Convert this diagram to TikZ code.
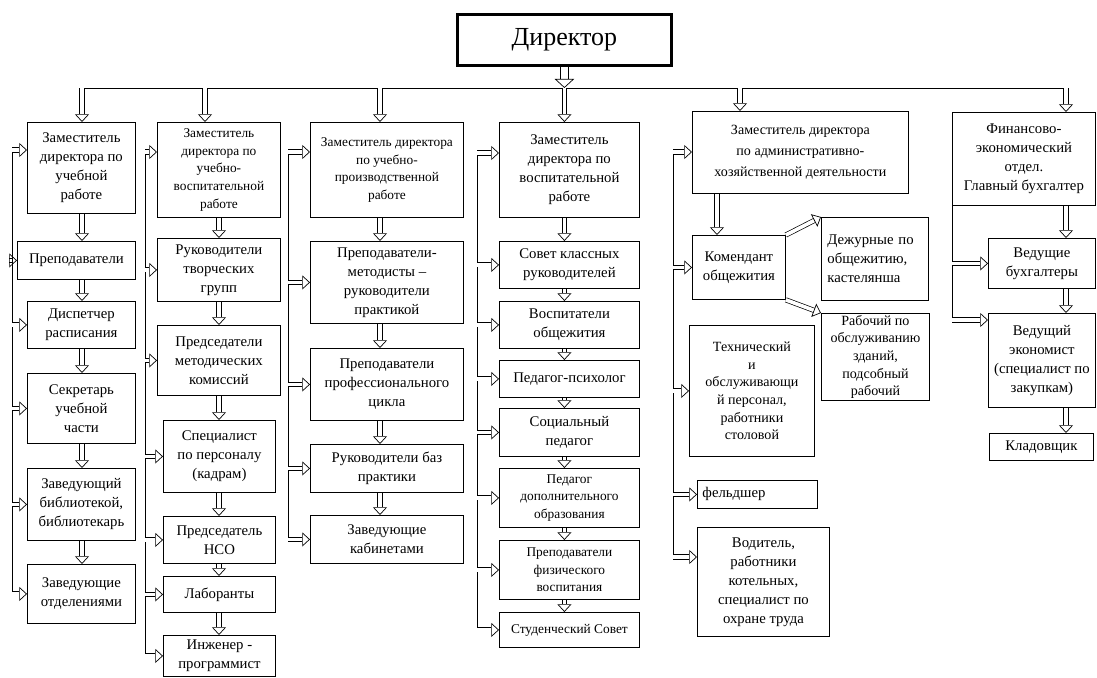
\documentclass[tikz,border=0pt]{standalone}
\usepackage{fontspec}
\setmainfont{Liberation Serif}
\usepackage{tikz}
\usetikzlibrary{arrows.meta}
\newlength{\pxu}
\setlength{\pxu}{0.025cm}
\tikzstyle{orgbox} = [draw=black, line width=0.6pt, rectangle, anchor=north west, inner sep=1pt, align=center, font=\fontsize{10.5}{13.5}\selectfont]
\tikzstyle{smallbox} = [orgbox, font=\fontsize{9.5}{12.5}\selectfont]
\tikzstyle{dirbox} = [draw=black, line width=2pt, rectangle, anchor=north west, font=\fontsize{18.5}{22}\selectfont]
\tikzstyle{varr} = [draw=black, double, double distance=2.6pt, line width=0.5pt, -{Triangle[open, length=5.5pt, width=10pt]}]
\tikzstyle{darr} = [draw=black, double, double distance=5pt, line width=0.5pt, -{Triangle[open, length=6.5pt, width=14pt]}]

\begin{document}
\begin{tikzpicture}[x=0.025cm, y=-0.025cm]
	\useasboundingbox (0,0) rectangle (1097,677);
	% director and bus
	\node [dirbox, minimum width=214\pxu, minimum height=51\pxu] (dir) at (456,13) {Директор};
	\coordinate (a1) at (82,88);
	\coordinate (a2) at (205,88);
	\coordinate (a3) at (380,88);
	\coordinate (a4) at (a1 -| dir.south);
	\coordinate (a5) at (740,88);
	\coordinate (a6) at (1066,88);
	\draw [line width=0.6pt] (a1) -- (a6);
	\draw [darr] (dir.south) -- (a4);

	% column 1
	\node [orgbox, minimum width=108\pxu, minimum height=91\pxu] (zur) at (27,122) {Заместитель\\директора по\\учебной\\работе};
	\node [orgbox, minimum width=118\pxu, minimum height=38\pxu] (prep) at (17,241) {Преподаватели};
	\node [orgbox, minimum width=108\pxu, minimum height=47\pxu] (disp) at (27,301) {Диспетчер\\расписания};
	\node [orgbox, minimum width=108\pxu, minimum height=70\pxu] (sekr) at (27,373) {Секретарь\\учебной\\части};
	\node [orgbox, minimum width=108\pxu, minimum height=72\pxu] (bibl) at (27,468) {Заведующий\\библиотекой,\\библиотекарь};
	\node [orgbox, minimum width=108\pxu, minimum height=59\pxu] (otd) at (27,564) {Заведующие\\отделениями};
	\coordinate (l1) at (12,150);

	% column 2
	\node [smallbox, minimum width=123\pxu, minimum height=95\pxu] (zuv) at (157,122) {Заместитель\\директора по\\учебно-\\воспитательной\\работе};
	\node [orgbox, minimum width=123\pxu, minimum height=63\pxu] (tvor) at (157,238) {Руководители\\творческих\\групп};
	\node [orgbox, minimum width=123\pxu, minimum height=70\pxu] (metod) at (157,325) {Председатели\\методических\\комиссий};
	\node [orgbox, minimum width=112\pxu, minimum height=72\pxu] (kadr) at (163,420) {Специалист\\по персоналу\\(кадрам)};
	\node [orgbox, minimum width=112\pxu, minimum height=47\pxu] (nso) at (163,516) {Председатель\\НСО};
	\node [orgbox, minimum width=112\pxu, minimum height=36\pxu] (lab) at (163,576) {Лаборанты};
	\node [orgbox, minimum width=112\pxu, minimum height=41\pxu] (ing) at (163,635) {Инженер -\\программист};
	\coordinate (l2) at (145,152);
	\coordinate (c2) at (219,0);

	% column 3
	\node [smallbox, minimum width=153\pxu, minimum height=95\pxu] (zup) at (310,122) {Заместитель директора\\по учебно-\\производственной\\работе};
	\node [orgbox, minimum width=153\pxu, minimum height=82\pxu] (metp) at (310,241) {Преподаватели-\\методисты --\\руководители\\практикой};
	\node [orgbox, minimum width=153\pxu, minimum height=72\pxu] (prof) at (310,348) {Преподаватели\\профессионального\\цикла};
	\node [orgbox, minimum width=153\pxu, minimum height=48\pxu] (baz) at (310,444) {Руководители баз\\практики};
	\node [orgbox, minimum width=153\pxu, minimum height=48\pxu] (kab) at (310,515) {Заведующие\\кабинетами};
	\coordinate (l3) at (288,152);

	% column 4
	\node [orgbox, minimum width=140\pxu, minimum height=95\pxu] (zvr) at (499,122) {Заместитель\\директора по\\воспитательной\\работе};
	\node [orgbox, minimum width=140\pxu, minimum height=47\pxu] (skr) at (499,241) {Совет классных\\руководителей};
	\node [orgbox, minimum width=140\pxu, minimum height=47\pxu] (vob) at (499,301) {Воспитатели\\общежития};
	\node [orgbox, minimum width=140\pxu, minimum height=37\pxu] (psy) at (499,360) {Педагог-психолог};
	\node [orgbox, minimum width=140\pxu, minimum height=48\pxu] (soc) at (499,408) {Социальный\\педагог};
	\node [smallbox, minimum width=140\pxu, minimum height=59\pxu] (dop) at (499,468) {Педагог\\дополнительного\\образования};
	\node [smallbox, minimum width=140\pxu, minimum height=59\pxu] (fiz) at (499,540) {Преподаватели\\физического\\воспитания};
	\node [smallbox, minimum width=140\pxu, minimum height=35\pxu] (sts) at (499,612) {Студенческий Совет};
	\coordinate (l4) at (477,153);

	% column 5
	\node [orgbox, font=\fontsize{10}{15}\selectfont, minimum width=216\pxu, minimum height=82\pxu] (aho) at (692,111) {Заместитель директора\\по административно-\\хозяйственной деятельности};
	\node [orgbox, minimum width=93\pxu, minimum height=64\pxu] (kom) at (692,235) {Комендант\\общежития};
	\node [orgbox, align=left, text width=95\pxu, inner xsep=6\pxu, minimum height=83\pxu] (deg) at (821,217) {Дежурные по\\общежитию,\\кастелянша};
	\node [orgbox, font=\fontsize{10}{12.5}\selectfont, minimum width=108\pxu, minimum height=87\pxu] (rab) at (821,313) {Рабочий по\\обслуживанию\\зданий,\\подсобный\\рабочий};
	\node [orgbox, font=\fontsize{10}{12.5}\selectfont, minimum width=125\pxu, minimum height=131\pxu] (tech) at (689,325) {Технический\\и\\обслуживающи\\й персонал,\\работники\\столовой};
	\node [orgbox, align=left, text width=110\pxu, inner xsep=5\pxu, minimum height=28\pxu] (feld) at (697,480) {фельдшер};
	\node [orgbox, minimum width=132\pxu, minimum height=109\pxu] (vod) at (697,527) {Водитель,\\работники\\котельных,\\специалист по\\охране труда};
	\coordinate (l5) at (673,152);
	\coordinate (l5b) at (673,557);
	\coordinate (k1) at (717,0);

	% column 6
	\node [orgbox, minimum width=143\pxu, minimum height=93\pxu] (fin) at (952,112) {Финансово-\\экономический\\отдел.\\Главный бухгалтер};
	\node [orgbox, minimum width=107\pxu, minimum height=50\pxu] (vb) at (988,238) {Ведущие\\бухгалтеры};
	\node [orgbox, minimum width=107\pxu, minimum height=94\pxu] (ve) at (988,313) {Ведущий\\экономист\\(специалист по\\закупкам)};
	\node [orgbox, minimum width=104\pxu, minimum height=27\pxu] (kl) at (989,433) {Кладовщик};
	\coordinate (l6) at (952,320);

	% drops from the bus
	\draw [varr] (a1) -- (a1 |- zur.north);
	\draw [varr] (a2) -- (a2 |- zuv.north);
	\draw [varr] (a3) -- (a3 |- zup.north);
	\draw [varr] (a4) -- (a4 |- zvr.north);
	\draw [varr] (a5) -- (a5 |- aho.north);
	\draw [varr] (a6) -- (a6 |- fin.north);

	% column 1 links
	\draw [line width=0.6pt] (l1) -- (l1 |- otd.west);
	\draw [varr] (l1) -- (l1 -| zur.west);
	\draw [varr] (l1 |- prep.west) -- (prep.west);
	\draw [varr] (l1 |- disp.west) -- (disp.west);
	\draw [varr] (l1 |- sekr.west) -- (sekr.west);
	\draw [varr] (l1 |- bibl.west) -- (bibl.west);
	\draw [varr] (l1 |- otd.west) -- (otd.west);
	\draw [varr] (zur.south -| a1) -- (prep.north -| a1);
	\draw [varr] (prep.south -| a1) -- (disp.north -| a1);
	\draw [varr] (disp.south -| a1) -- (sekr.north -| a1);
	\draw [varr] (sekr.south -| a1) -- (bibl.north -| a1);
	\draw [varr] (bibl.south -| a1) -- (otd.north -| a1);

	% column 2 links
	\draw [line width=0.6pt] (l2) -- (l2 |- ing.west);
	\draw [varr] (l2) -- (l2 -| zuv.west);
	\draw [varr] (l2 |- tvor.west) -- (tvor.west);
	\draw [varr] (l2 |- metod.west) -- (metod.west);
	\draw [varr] (l2 |- kadr.west) -- (kadr.west);
	\draw [varr] (l2 |- nso.west) -- (nso.west);
	\draw [varr] (l2 |- lab.west) -- (lab.west);
	\draw [varr] (l2 |- ing.west) -- (ing.west);
	\draw [varr] (zuv.south -| c2) -- (tvor.north -| c2);
	\draw [varr] (tvor.south -| c2) -- (metod.north -| c2);
	\draw [varr] (metod.south -| c2) -- (kadr.north -| c2);
	\draw [varr] (kadr.south -| c2) -- (nso.north -| c2);
	\draw [varr] (nso.south -| c2) -- (lab.north -| c2);
	\draw [varr] (lab.south -| c2) -- (ing.north -| c2);

	% column 3 links
	\draw [line width=0.6pt] (l3) -- (l3 |- kab.west);
	\draw [varr] (l3) -- (l3 -| zup.west);
	\draw [varr] (l3 |- metp.west) -- (metp.west);
	\draw [varr] (l3 |- prof.west) -- (prof.west);
	\draw [varr] (l3 |- baz.west) -- (baz.west);
	\draw [varr] (l3 |- kab.west) -- (kab.west);
	\draw [varr] (zup.south -| a3) -- (metp.north -| a3);
	\draw [varr] (metp.south -| a3) -- (prof.north -| a3);
	\draw [varr] (prof.south -| a3) -- (baz.north -| a3);
	\draw [varr] (baz.south -| a3) -- (kab.north -| a3);

	% column 4 links
	\draw [line width=0.6pt] (l4) -- (l4 |- sts.west);
	\draw [varr] (l4) -- (l4 -| zvr.west);
	\draw [varr] (l4 |- skr.west) -- (skr.west);
	\draw [varr] (l4 |- vob.west) -- (vob.west);
	\draw [varr] (l4 |- psy.west) -- (psy.west);
	\draw [varr] (l4 |- soc.west) -- (soc.west);
	\draw [varr] (l4 |- dop.west) -- (dop.west);
	\draw [varr] (l4 |- fiz.west) -- (fiz.west);
	\draw [varr] (l4 |- sts.west) -- (sts.west);
	\draw [varr] (zvr.south -| a4) -- (skr.north -| a4);
	\draw [varr] (skr.south -| a4) -- (vob.north -| a4);
	\draw [varr] (vob.south -| a4) -- (psy.north -| a4);
	\draw [varr] (psy.south -| a4) -- (soc.north -| a4);
	\draw [varr] (soc.south -| a4) -- (dop.north -| a4);
	\draw [varr] (dop.south -| a4) -- (fiz.north -| a4);
	\draw [varr] (fiz.south -| a4) -- (sts.north -| a4);

	% column 5 links
	\draw [line width=0.6pt] (l5) -- (l5b);
	\draw [varr] (l5) -- (l5 -| aho.west);
	\draw [varr] (l5 |- kom.west) -- (kom.west);
	\draw [varr] (l5 |- tech.west) -- (tech.west);
	\draw [varr] (l5 |- feld.west) -- (feld.west);
	\draw [varr] (l5b) -- (l5b -| vod.west);
	\draw [varr] (aho.south -| k1) -- (kom.north -| k1);
	\draw [varr] (kom.north east) -- (deg.north west);
	\draw [varr] (kom.south east) -- (rab.north west);

	% column 6 links
	\draw [line width=0.6pt] (fin.south west) -- (l6);
	\draw [varr] (l6 |- vb.west) -- (vb.west);
	\draw [varr] (l6) -- (l6 -| ve.west);
	\draw [varr] (fin.south -| a6) -- (vb.north -| a6);
	\draw [varr] (vb.south -| a6) -- (ve.north -| a6);
	\draw [varr] (ve.south -| a6) -- (kl.north -| a6);
\end{tikzpicture}
\end{document}
